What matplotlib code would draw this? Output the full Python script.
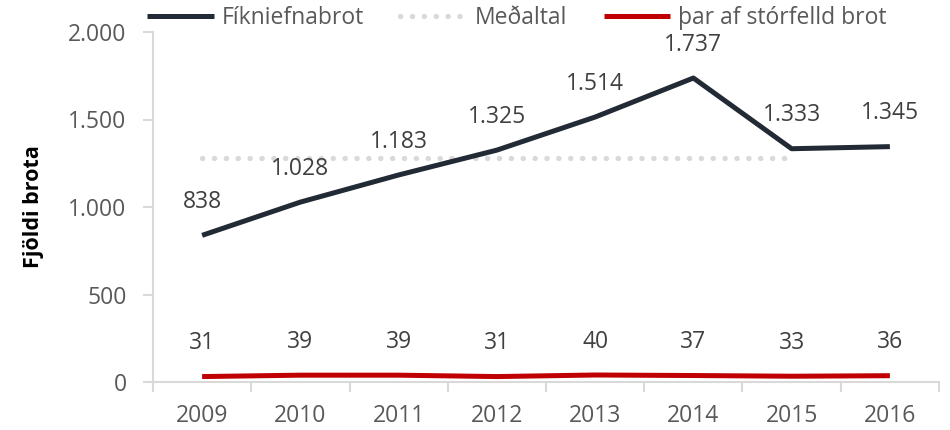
import matplotlib.pyplot as plt
from matplotlib.ticker import FuncFormatter, FixedLocator

# data
years = ['2009', '2010', '2011', '2012', '2013', '2014', '2015', '2016']
fikniefnabrot = [838, 1028, 1183, 1325, 1514, 1737, 1333, 1345]
medaltal = [1280, 1280, 1280, 1280, 1280, 1280, 1280]  # 2009-2015
storfelld = [31, 39, 39, 31, 40, 37, 33, 36]

plt.rcParams['font.family'] = ['Open Sans', 'DejaVu Sans']
grey_txt = '#595959'
axis_col = '#d9d9d9'
fs = 16.5


def thousands(v, pos=None):
    return '{:,.0f}'.format(v).replace(',', '.')


fig = plt.figure(figsize=(9.5, 4.3), dpi=100)
ax = fig.add_axes([153 / 950, 1 - 382 / 430, 786 / 950, 350 / 430])

x = list(range(len(years)))
l1, = ax.plot(x, fikniefnabrot, color='#222a35', lw=3.6, solid_capstyle='butt',
              label='Fíkniefnabrot', zorder=3)
l2, = ax.plot(x[:len(medaltal)], medaltal, color='#d9d9d9', lw=3.8, ls=(0, (0.05, 2.2)),
              dash_capstyle='round', label='Meðaltal', zorder=2)
l3, = ax.plot(x, storfelld, color='#c00000', lw=3.6, solid_capstyle='butt',
              label='þar af stórfelld brot', zorder=3)

for xi, v in zip(x, fikniefnabrot):
    ax.annotate(thousands(v), (xi, v), xytext=(0, 24), textcoords='offset points',
                ha='center', va='center', fontsize=fs, color='#404040')
for xi, v in zip(x, storfelld):
    ax.annotate(thousands(v), (xi, v), xytext=(0, 24), textcoords='offset points',
                ha='center', va='center', fontsize=fs, color='#404040')

ax.set_xlim(-0.5, len(years) - 0.5)
ax.set_ylim(0, 2000)
ax.set_yticks([0, 500, 1000, 1500, 2000])
ax.yaxis.set_major_formatter(FuncFormatter(thousands))
ax.set_xticks(x)
ax.set_xticklabels(years)
ax.xaxis.set_minor_locator(FixedLocator([i - 0.5 for i in range(len(years) + 1)]))

ax.tick_params(axis='x', which='major', length=0, pad=16, labelsize=fs, labelcolor=grey_txt)
ax.tick_params(axis='x', which='minor', length=7, width=1.5, color=axis_col)
ax.tick_params(axis='y', length=7, width=1.5, color=axis_col, pad=12,
               labelsize=fs, labelcolor=grey_txt)

for s in ['top', 'right']:
    ax.spines[s].set_visible(False)
for s in ['left', 'bottom']:
    ax.spines[s].set_color(axis_col)
    ax.spines[s].set_linewidth(1.5)

ax.set_ylabel('Fjöldi brota', fontsize=15.5, fontweight='bold', color='black')
ax.yaxis.set_label_coords(-109 / 786, 0.5)

fig.legend(handles=[l1, l2, l3], loc='center', bbox_to_anchor=(517 / 950, 1 - 18 / 430),
           ncol=3, frameon=False, fontsize=fs, labelcolor=grey_txt,
           handlelength=2.9, handletextpad=0.35, columnspacing=1.6)

fig.savefig('out.png', dpi=100)
